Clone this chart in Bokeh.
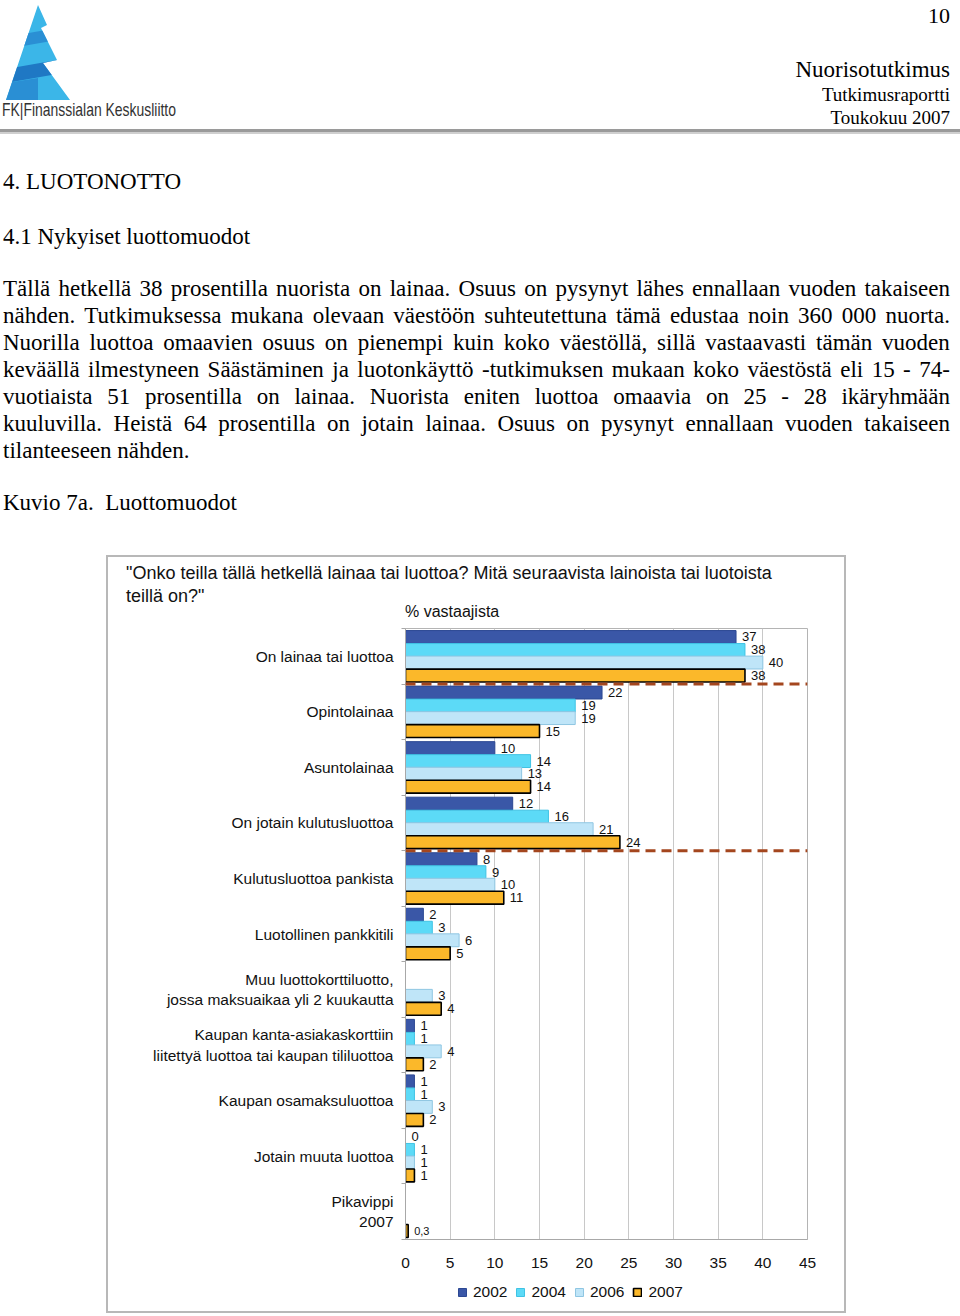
from bokeh.plotting import figure
from bokeh.models import (ColumnDataSource, Range1d, FixedTicker, Span,
                          Legend, LegendItem, Div, Spacer)
from bokeh.layouts import column, row
from bokeh.embed import file_html
from bokeh.resources import INLINE
from bokeh.core.properties import value

# ---------------- data ----------------
categories = [
    "On lainaa tai luottoa",
    "Opintolainaa",
    "Asuntolainaa",
    "On jotain kulutusluottoa",
    "Kulutusluottoa pankista",
    "Luotollinen pankkitili",
    "Muu luottokorttiluotto,\njossa maksuaikaa yli 2 kuukautta",
    "Kaupan kanta-asiakaskorttiin\nliitettyä luottoa tai kaupan tililuottoa",
    "Kaupan osamaksuluottoa",
    "Jotain muuta luottoa",
    "Pikavippi\n2007",
]
years = ["2002", "2004", "2006", "2007"]
v2002 = [37, 22, 10, 12, 8, 2, None, 1, 1, 0, None]
v2004 = [38, 19, 14, 16, 9, 3, None, 1, 1, 1, None]
v2006 = [40, 19, 13, 21, 10, 6, 3, 4, 3, 1, None]
v2007 = [38, 15, 14, 24, 11, 5, 4, 2, 2, 1, 0.3]
x_ticks = [0, 5, 10, 15, 20, 25, 30, 35, 40, 45]
separator_after = [1, 4]   # dashed lines after these groups (count from top)

title_lines = ['"Onko teilla tällä hetkellä lainaa tai luottoa? Mitä seuraavista lainoista tai luotoista',
               'teillä on?"']
unit_label = "% vastaajista"

heading1 = "4. LUOTONOTTO"
heading2 = "4.1 Nykyiset luottomuodot"
para_lines = [
    "Tällä hetkellä 38 prosentilla nuorista on lainaa. Osuus on pysynyt lähes ennallaan vuoden takaiseen",
    "nähden. Tutkimuksessa mukana olevaan väestöön suhteutettuna tämä edustaa noin 360 000 nuorta.",
    "Nuorilla luottoa omaavien osuus on pienempi kuin koko väestöllä, sillä vastaavasti tämän vuoden",
    "keväällä ilmestyneen Säästäminen ja luotonkäyttö -tutkimuksen mukaan koko väestöstä eli 15 - 74-",
    "vuotiaista 51 prosentilla on lainaa.  Nuorista eniten luottoa omaavia on 25 - 28 ikäryhmään",
    "kuuluvilla. Heistä 64 prosentilla on jotain lainaa. Osuus on pysynyt ennallaan vuoden takaiseen",
    "tilanteeseen nähden.",
]
caption = "Kuvio 7a.&nbsp; Luottomuodot"

# ---------------- header / text block (page coordinates) ----------------
SERIF = "'Liberation Serif', 'Times New Roman', serif"
SANS = "Liberation Sans"


def at_baseline(text, left, baseline, size):
    top = baseline - 0.8375 * size
    return (f'<div style="position:absolute;left:{left}px;top:{top:.1f}px;'
            f'font-size:{size}px;line-height:{size}px;white-space:nowrap">{text}</div>')


def right_baseline(text, right_edge, baseline, size):
    top = baseline - 0.8375 * size
    return (f'<div style="position:absolute;right:{960 - right_edge}px;top:{top:.1f}px;'
            f'font-size:{size}px;line-height:{size}px;white-space:nowrap;text-align:right">{text}</div>')


def justified(text, left, right_edge, baseline, size):
    top = baseline - 0.8375 * size
    words = "".join(f"<span>{w}</span>" for w in text.split())
    return (f'<div style="position:absolute;left:{left}px;width:{right_edge - left}px;top:{top:.1f}px;'
            f'font-size:{size}px;line-height:{size}px;display:flex;justify-content:space-between;'
            f'white-space:nowrap">{words}</div>')


logo = '''
<svg width="200" height="125" style="position:absolute;left:0px;top:0px;overflow:visible">
 <defs><clipPath id="fkclip"><polygon points="38,5 47,25 41,28 57,60 43,63 70,100 6,100"/></clipPath></defs>
 <g clip-path="url(#fkclip)">
  <rect x="0" y="0" width="80" height="105" fill="#3bb6e8"/>
  <polygon points="0,38 80,24 80,36 0,50" fill="#2a8fd4"/>
  <polygon points="0,70 80,56 80,70 0,84" fill="#1f78c4"/>
  <polygon points="0,84 38,78 38,105 0,105" fill="#2a8fd4"/>
 </g>
 <text x="2" y="116" textLength="174" lengthAdjust="spacingAndGlyphs"
  style="font-family:'Liberation Sans Narrow','Liberation Sans','DejaVu Sans',sans-serif;font-size:19px;fill:#333">FK|Finanssialan Keskusliitto</text>
</svg>'''

parts = [f'<div style="position:relative;width:960px;height:555px;font-family:{SERIF};color:#000">', logo]
parts.append(right_baseline("10", 950, 23, 22))
parts.append(right_baseline("Nuorisotutkimus", 950, 77, 23))
parts.append(right_baseline("Tutkimusraportti", 950, 101, 19))
parts.append(right_baseline("Toukokuu 2007", 950, 124, 19))
parts.append('<div style="position:absolute;left:0px;top:129px;width:960px;height:3px;background:#9a9a9a"></div>')
parts.append('<div style="position:absolute;left:0px;top:132px;width:960px;height:2px;background:#cfcfcf"></div>')
parts.append(at_baseline(heading1, 3, 189, 23))
parts.append(at_baseline(heading2, 3, 244, 23))
b0, step = 296.5, 26.9
for i, ln in enumerate(para_lines):
    b = b0 + i * step
    if i < len(para_lines) - 1:
        parts.append(justified(ln, 3, 950, b, 23))
    else:
        parts.append(at_baseline(ln, 3, b, 23))
parts.append(at_baseline(caption, 3, 510, 23))
parts.append('</div>')
top_div = Div(text="".join(parts), width=952, height=557, margin=0)

# ---------------- chart title block (inside the framed box, box origin = page (108, 557)) -----
def box_text(text, left, center_y, size):
    return (f'<div style="position:absolute;left:{left}px;top:{center_y - 10}px;font-family:{SANS};'
            f'font-size:{size}px;line-height:20px;white-space:nowrap;color:#111">{text}</div>')


tparts = ['<div style="position:relative;width:736px;height:70px;background:white">',
          box_text(title_lines[0], 18, 16, 18),
          box_text(title_lines[1], 18, 39, 18),
          box_text(unit_label, 297, 55, 16),
          '</div>']
title_div = Div(text="".join(tparts), width=736, height=70, margin=0)

# ---------------- chart ----------------
n = len(categories)
OFFS = [0.347, 0.113, -0.113, -0.347]
BAR_H = 0.232
fills = ["#3a57a7", "#5cdaf7", "#bfe5f8", "#fbb82a"]
edges = ["#2c4893", "#3fc3e4", "#8fc6e2", "#000000"]
lws = [1, 1, 1, 1.6]

p = figure(width=736, height=648, output_backend="svg", toolbar_location=None, title=None,
           x_range=Range1d(0, 45), y_range=Range1d(0, n),
           min_border_left=297, min_border_right=37, min_border_top=1, min_border_bottom=36)
p.background_fill_color = "white"
p.border_fill_color = "white"
p.outline_line_color = "#b4b4b4"
p.outline_line_width = 1


def fmt(v):
    return str(int(v)) if float(v).is_integer() else str(v).replace(".", ",")


series = [v2002, v2004, v2006, v2007]
bar_sources = []
for k, vals in enumerate(series):
    ys, vs = [], []
    for i, v in enumerate(vals):
        if v is None:
            continue
        ys.append(n - i - 0.5 + OFFS[k])
        vs.append(v)
    bar_src = ColumnDataSource(dict(y=[y for y, v in zip(ys, vs) if v > 0],
                                    v=[v for v in vs if v > 0]))
    bar_sources.append(bar_src)
    p.hbar(y="y", left=0, right="v", height=BAR_H, source=bar_src,
           fill_color=fills[k], line_color=edges[k], line_width=lws[k])
    lab_src = ColumnDataSource(dict(y=ys, v=vs, lab=[fmt(v) for v in vs],
                                    fs=["11px" if 0 < v < 1 else "13px" for v in vs]))
    p.text(x="v", y="y", text="lab", source=lab_src, x_offset=6, text_baseline="middle",
           text_font=value(SANS), text_font_size="fs", text_color="#111111")

for g in separator_after:
    p.add_layout(Span(location=n - g, dimension="width", line_color="#a4461e",
                      line_width=3, line_dash="10 6"))

# axes
p.xaxis.ticker = FixedTicker(ticks=x_ticks)
p.xaxis.major_tick_out = 0
p.xaxis.major_tick_in = 0
p.xaxis.minor_tick_out = 0
p.xaxis.minor_tick_in = 0
p.xaxis.axis_line_color = "#a8a8a8"
p.xaxis.major_label_standoff = 18
p.xaxis.major_label_text_font = SANS
p.xaxis.major_label_text_font_size = "15.5px"
p.xaxis.major_label_text_color = "#111111"

centers = [n - i - 0.5 for i in range(n)]
p.yaxis.ticker = FixedTicker(ticks=centers, minor_ticks=list(range(n + 1)))
p.yaxis.major_label_overrides = {c: categories[i] for i, c in enumerate(centers)}
p.yaxis.major_tick_out = 0
p.yaxis.major_tick_in = 0
p.yaxis.minor_tick_out = 4
p.yaxis.minor_tick_in = 0
p.yaxis.minor_tick_line_color = "#a8a8a8"
p.yaxis.axis_line_color = "#a8a8a8"
p.yaxis.major_label_standoff = 8
p.yaxis.major_label_text_font = SANS
p.yaxis.major_label_text_font_size = "15.5px"
p.yaxis.major_label_text_color = "#111111"

p.xgrid.ticker = FixedTicker(ticks=x_ticks)
p.xgrid.grid_line_color = "#c8c8c8"
p.ygrid.visible = False

# ---------------- legend strip (same series styles; renderers hidden, only the legend shows) ----------------
lf = figure(width=736, height=36, output_backend="svg", toolbar_location=None, title=None,
            x_range=Range1d(0, 45), y_range=Range1d(100, 101), min_border=0,
            x_axis_location=None, y_axis_location=None)
lf.grid.visible = False
lf.outline_line_color = None
lf.background_fill_color = "white"
lf.border_fill_color = "white"
items = []
for k, yr in enumerate(years):
    r = lf.hbar(y="y", left=0, right="v", height=BAR_H, source=bar_sources[k],
                fill_color=fills[k], line_color=edges[k], line_width=lws[k])
    r.visible = False
    items.append(LegendItem(label=yr, renderers=[r]))
legend = Legend(items=items, orientation="horizontal", location=(52, 10), padding=0, margin=0,
                spacing=8, glyph_width=10, glyph_height=10, label_standoff=6,
                label_text_font=SANS, label_text_font_size="15.5px", label_text_color="#111111",
                border_line_color=None, background_fill_alpha=0,
                inactive_fill_alpha=0)
lf.add_layout(legend)

box = column(title_div, p, lf, spacing=0, styles={"box-shadow": "0 0 0 2px #b8b8b8"})
layout = column(top_div, row(Spacer(width=108, height=754, margin=0), box))

open("out.html", "w").write(file_html(layout, INLINE))
